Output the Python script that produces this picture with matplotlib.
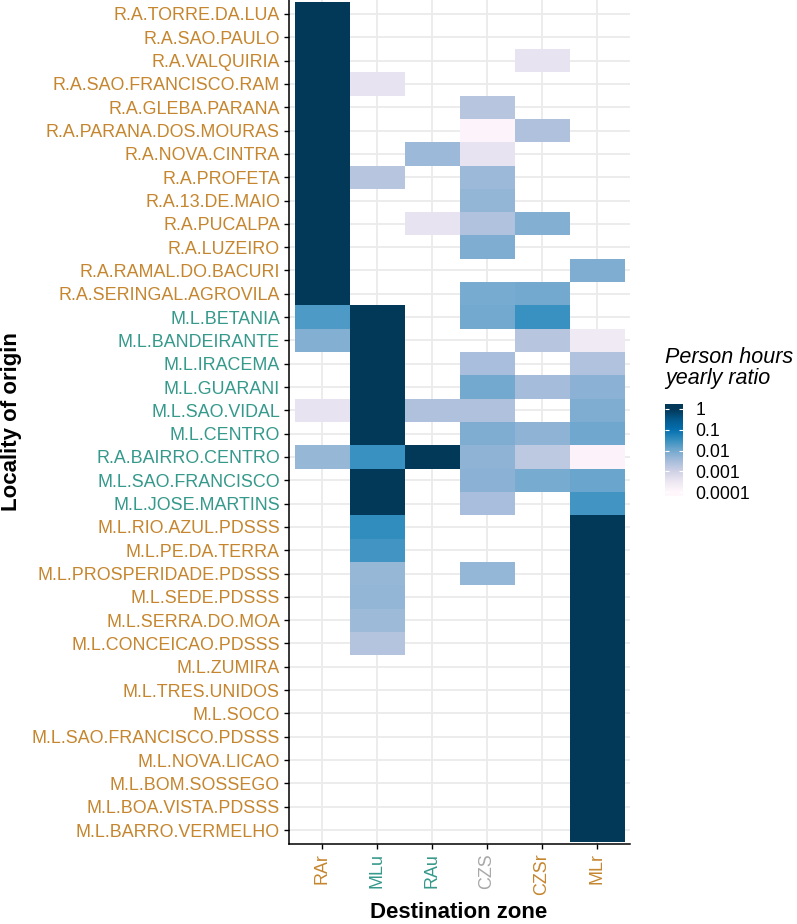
import numpy as np
import matplotlib.pyplot as plt
from matplotlib.colors import LogNorm

n = np.nan

origins = [
    'R.A.TORRE.DA.LUA', 'R.A.SAO.PAULO', 'R.A.VALQUIRIA', 'R.A.SAO.FRANCISCO.RAM',
    'R.A.GLEBA.PARANA', 'R.A.PARANA.DOS.MOURAS', 'R.A.NOVA.CINTRA', 'R.A.PROFETA',
    'R.A.13.DE.MAIO', 'R.A.PUCALPA', 'R.A.LUZEIRO', 'R.A.RAMAL.DO.BACURI',
    'R.A.SERINGAL.AGROVILA', 'M.L.BETANIA', 'M.L.BANDEIRANTE', 'M.L.IRACEMA',
    'M.L.GUARANI', 'M.L.SAO.VIDAL', 'M.L.CENTRO', 'R.A.BAIRRO.CENTRO',
    'M.L.SAO.FRANCISCO', 'M.L.JOSE.MARTINS', 'M.L.RIO.AZUL.PDSSS', 'M.L.PE.DA.TERRA',
    'M.L.PROSPERIDADE.PDSSS', 'M.L.SEDE.PDSSS', 'M.L.SERRA.DO.MOA', 'M.L.CONCEICAO.PDSSS',
    'M.L.ZUMIRA', 'M.L.TRES.UNIDOS', 'M.L.SOCO', 'M.L.SAO.FRANCISCO.PDSSS',
    'M.L.NOVA.LICAO', 'M.L.BOM.SOSSEGO', 'M.L.BOA.VISTA.PDSSS', 'M.L.BARRO.VERMELHO',
]
origin_type = ['rural'] * 13 + ['urban'] * 9 + ['rural'] * 14

zones = ['RAr', 'MLu', 'RAu', 'CZS', 'CZSr', 'MLr']
zone_type = ['rural', 'urban', 'urban', 'cz', 'rural', 'rural']

# person hours ratio per destination zone, one value per origin (nan = none)
RAr = [1, 1, 1, 1, 1, 1, 1, 1, 1, 1, 1, 1, 1,
       0.02, 0.007, n, n, 4e-4, n, 4.5e-3, n, n,
       n, n, n, n, n, n, n, n, n, n, n, n, n, n]
MLu = [n, n, n, 4e-4, n, n, n, 2e-3, n, n, n, n, n,
       1, 1, 1, 1, 1, 1, 0.03, 1, 1,
       0.035, 0.025, 4.5e-3, 5e-3, 3.8e-3, 2.2e-3, n, n, n, n, n, n, n, n]
RAu = [n, n, n, n, n, n, 4e-3, n, n, 4e-4, n, n, n,
       n, n, n, n, 2.5e-3, n, 1, n, n,
       n, n, n, n, n, n, n, n, n, n, n, n, n, n]
CZS = [n, n, n, n, 2e-3, 1.2e-4, 4e-4, 4e-3, 5e-3, 2.3e-3, 0.008, n, 0.009,
       0.01, n, 3e-3, 0.01, 2.5e-3, 0.008, 5.5e-3, 6e-3, 3e-3,
       n, n, 4.8e-3, n, n, n, n, n, n, n, n, n, n, n]
CZSr = [n, n, 4e-4, n, n, 2.5e-3, n, n, n, 7e-3, n, n, 0.01,
        0.03, 2e-3, n, 3.2e-3, n, 5.5e-3, 1.7e-3, 0.009, n,
        n, n, n, n, n, n, n, n, n, n, n, n, n, n]
MLr = [n, n, n, n, n, n, n, n, n, n, n, 0.008, n,
       n, 2.5e-4, 2.3e-3, 6e-3, 8e-3, 0.011, 1.3e-4, 0.012, 0.025,
       1, 1, 1, 1, 1, 1, 1, 1, 1, 1, 1, 1, 1, 1]

breaks = [1e-4, 1e-3, 1e-2, 1e-1, 1]
break_labels = ['0.0001', '0.001', '0.01', '0.1', '1']

type_colors = {'rural': '#C5862F', 'urban': '#35998B', 'cz': '#A8A8A8'}

data = np.array([RAr, MLu, RAu, CZS, CZSr, MLr]).T
vals = np.ma.masked_invalid(data)

plt.rcParams['font.family'] = ['Liberation Sans', 'DejaVu Sans']

fig = plt.figure(figsize=(7.97, 9.24), dpi=100)
ax = fig.add_axes([289 / 797, 1 - 844 / 924, 341 / 797, 844 / 924])

norm = LogNorm(vmin=1e-4, vmax=1)
xe = np.arange(len(zones) + 1) - 0.5
ye = np.arange(len(origins) + 1) - 0.5
mesh = ax.pcolormesh(xe, ye, vals, cmap='PuBu', norm=norm, zorder=2)

ax.set_xlim(-0.6, len(zones) - 0.4)
ax.set_ylim(len(origins) - 0.4, -0.6)
ax.set_xticks(range(len(zones)))
ax.set_xticklabels(zones, rotation=90, fontsize=12.9, va='top')
ax.set_yticks(range(len(origins)))
ax.set_yticklabels(origins, fontsize=12.9)
for lab, t in zip(ax.get_xticklabels(), zone_type):
    lab.set_color(type_colors[t])
for lab, t in zip(ax.get_yticklabels(), origin_type):
    lab.set_color(type_colors[t])

ax.grid(color='#ebebeb', lw=1.3, zorder=0)
ax.set_axisbelow(True)
for s in ['top', 'right']:
    ax.spines[s].set_visible(False)
for s in ['left', 'bottom']:
    ax.spines[s].set_linewidth(1.1)
ax.tick_params(length=3.5, width=1, color='black', pad=3)

fig.text(12 / 797, 1 - 422 / 924, 'Locality of origin', rotation=90,
         fontsize=16, fontweight='bold', ha='center', va='center')
fig.text(459 / 797, 1 - 913 / 924, 'Destination zone',
         fontsize=16, fontweight='bold', ha='center', va='center')

# legend
fig.text(665 / 797, 1 - 347 / 924, 'Person hours\nyearly ratio', style='italic',
         fontsize=15.5, ha='left', va='top', linespacing=1.02)
cax = fig.add_axes([665 / 797, 1 - 496 / 924, 18 / 797, 92 / 924])
lo, hi = -4.19, 0.24
grad = np.logspace(lo, hi, 300).reshape(-1, 1)
cax.imshow(grad, cmap='PuBu', norm=norm, aspect='auto', origin='lower',
           extent=[0, 1, lo, hi])
cax.set_ylim(lo, hi)
cax.set_xlim(0, 1)
cax.set_xticks([])
cax.yaxis.tick_right()
cax.set_yticks(np.log10(breaks))
cax.set_yticklabels(break_labels)
for s in cax.spines.values():
    s.set_visible(False)
cax.tick_params(axis='y', length=3, width=0.8, color='white', direction='in',
                labelsize=12.7, pad=9, left=True, right=True)

fig.savefig('out.png', dpi=100)
